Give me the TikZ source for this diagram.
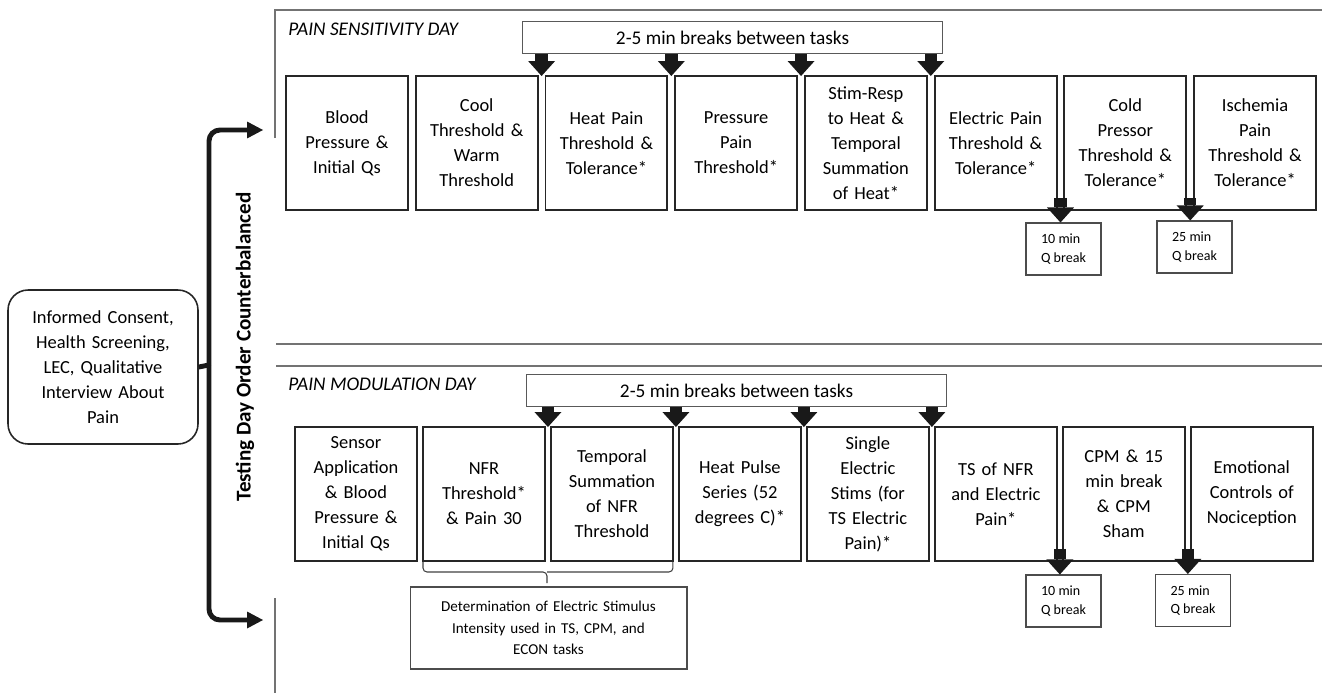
\documentclass[tikz,border=0pt]{standalone}
\usepackage{fontspec}
\setmainfont{Carlito}
\usetikzlibrary{positioning,calc,arrows.meta}
\tikzset{
  taskbox/.style = {draw=black!85, line width=1.1pt, minimum width=2.44cm, minimum height=2.68cm, text width=2.34cm, align=center, inner sep=0pt, outer sep=0pt, font=\fontsize{10.5}{14.2}\selectfont},
  breakbox/.style = {draw=black!65, line width=0.6pt, minimum width=8.42cm, minimum height=0.64cm, inner sep=0pt, font=\fontsize{11}{12}\selectfont},
  qbox/.style = {draw=black!70, line width=0.6pt, minimum width=1.5cm, minimum height=1.04cm, align=left, inner sep=0pt, font=\fontsize{8}{10.4}\selectfont},
  blockarrow/.style = {draw=black!90, line width=0.25cm, -{Triangle[width=0.54cm,length=0.3cm,line width=0pt]}},
  forkline/.style = {draw=black!90, line width=2.8pt},
  forkarrow/.style = {forkline, rounded corners=0.22cm, -{Triangle[width=0.34cm,length=0.32cm,line width=0pt]}},
  panelline/.style = {draw=black!55, line width=0.7pt},
  bracestyle/.style = {draw=black!75, line width=0.6pt, rounded corners=0.08cm},
  daytitle/.style = {anchor=west, inner sep=0pt, font=\itshape\fontsize{11}{12}\selectfont}
}
\begin{document}
\begin{tikzpicture}[x=0.02cm, y=-0.02cm]
\useasboundingbox (0,0) rectangle (1322,693);

% panel frames
\draw[panelline] (275,138) -- (275,10) -- (1322,10);
\draw[panelline] (276,344) -- (1322,344);
\draw[panelline] (276,366) -- (1322,366);
\draw[panelline] (275,598) -- (275,693);

% start and counterbalancing
\node (consent) [draw=black!85, line width=0.9pt, rounded corners=0.4cm, minimum width=3.8cm, minimum height=3.08cm, text width=3.6cm, align=center, inner sep=0pt, font=\fontsize{10.5}{14.2}\selectfont] at (103,367) {Informed Consent,\\Health Screening,\\LEC, Qualitative\\Interview About\\Pain};
\node (order) [rotate=90, inner sep=0pt, font=\bfseries\fontsize{12}{13}\selectfont] at (245,347) {Testing Day Order Counterbalanced};
\coordinate (fork) at (209,365);
\coordinate (sensin) at (263,130);
\coordinate (modin) at (263,620);
\draw[forkline] (consent.east) -- (fork);
\draw[forkarrow] (fork) |- (sensin);
\draw[forkarrow] (fork) |- (modin);

% pain sensitivity day
\node (senstitle) [daytitle] at (288,29) {PAIN SENSITIVITY DAY};
\node (sbreak) [breakbox] at (732.5,37.5) {2-5 min breaks between tasks};
\node (s1) [taskbox] at (347,143) {Blood\\Pressure \&\\Initial Qs};
\node (s2) [taskbox, right=0.155cm of s1] {Cool\\Threshold \&\\Warm\\Threshold};
\node (s3) [taskbox, right=0.155cm of s2] {Heat Pain\\Threshold \&\\Tolerance*};
\node (s4) [taskbox, right=0.155cm of s3] {Pressure\\Pain\\Threshold*};
\node (s5) [taskbox, right=0.155cm of s4] {Stim-Resp\\to Heat \&\\Temporal\\Summation\\of Heat*};
\node (s6) [taskbox, right=0.155cm of s5] {Electric Pain\\Threshold \&\\Tolerance*};
\node (s7) [taskbox, right=0.155cm of s6] {Cold\\Pressor\\Threshold \&\\Tolerance*};
\node (s8) [taskbox, right=0.155cm of s7] {Ischemia\\Pain\\Threshold \&\\Tolerance*};
\node (sq1) [qbox] at (1063.5,249) {10 min\\Q break};
\node (sq2) [qbox] at (1194.5,247) {25 min\\Q break};

\coordinate (s23) at ($(s2.north east)!.5!(s3.north west)$);
\coordinate (s34) at ($(s3.north east)!.5!(s4.north west)$);
\coordinate (s45) at ($(s4.north east)!.5!(s5.north west)$);
\coordinate (s56) at ($(s5.north east)!.5!(s6.north west)$);
\coordinate (s67) at ($(s6.south east)!.5!(s7.south west)$);
\coordinate (s78) at ($(s7.south east)!.5!(s8.south west)$);
\draw[blockarrow] (s23 |- sbreak.south) -- (s23);
\draw[blockarrow] (s34 |- sbreak.south) -- (s34);
\draw[blockarrow] (s45 |- sbreak.south) -- (s45);
\draw[blockarrow] (s56 |- sbreak.south) -- (s56);
\draw[blockarrow] ([yshift=0.24cm]s67) -- (s67 |- sq1.north);
\draw[blockarrow] ([yshift=0.24cm]s78) -- (s78 |- sq2.north);

% pain modulation day
\node (modtitle) [daytitle] at (288,384) {PAIN MODULATION DAY};
\node (mbreak) [breakbox] at (736.5,390.5) {2-5 min breaks between tasks};
\node (m1) [taskbox] at (356,494) {Sensor\\Application\\\& Blood\\Pressure \&\\Initial Qs};
\node (m2) [taskbox, right=0.12cm of m1] {NFR\\Threshold*\\\& Pain 30};
\node (m3) [taskbox, right=0.12cm of m2] {Temporal\\Summation\\of NFR\\Threshold};
\node (m4) [taskbox, right=0.12cm of m3] {Heat Pulse\\Series (52\\degrees C)*};
\node (m5) [taskbox, right=0.12cm of m4] {Single\\Electric\\Stims (for\\TS Electric\\Pain)*};
\node (m6) [taskbox, right=0.12cm of m5] {TS of NFR\\and Electric\\Pain*};
\node (m7) [taskbox, right=0.12cm of m6] {CPM \& 15\\min break\\\& CPM\\Sham};
\node (m8) [taskbox, right=0.12cm of m7] {Emotional\\Controls of\\Nociception};
\node (mq1) [qbox] at (1063.5,601) {10 min\\Q break};
\node (mq2) [qbox] at (1193,600.5) {25 min\\Q break};
\node (det) [draw=black!70, line width=0.6pt, minimum width=5.54cm, minimum height=1.64cm, text width=5.3cm, align=center, inner sep=0pt, font=\fontsize{8.6}{12.3}\selectfont] at (548.5,628) {Determination of Electric Stimulus\\Intensity used in TS, CPM, and\\ECON tasks};

\coordinate (m23) at ($(m2.north east)!.5!(m3.north west)$);
\coordinate (m34) at ($(m3.north east)!.5!(m4.north west)$);
\coordinate (m45) at ($(m4.north east)!.5!(m5.north west)$);
\coordinate (m56) at ($(m5.north east)!.5!(m6.north west)$);
\coordinate (m67) at ($(m6.south east)!.5!(m7.south west)$);
\coordinate (m78) at ($(m7.south east)!.5!(m8.south west)$);
\draw[blockarrow] (m23 |- mbreak.south) -- (m23);
\draw[blockarrow] (m34 |- mbreak.south) -- (m34);
\draw[blockarrow] (m45 |- mbreak.south) -- (m45);
\draw[blockarrow] (m56 |- mbreak.south) -- (m56);
\draw[blockarrow] ([yshift=0.24cm]m67) -- (m67 |- mq1.north);
\draw[blockarrow] ([yshift=0.24cm]m78) -- (m78 |- mq2.north);

% brace under the NFR tasks
\draw[bracestyle] ([yshift=-0.02cm]m2.south west) |- (547,572) -- (547,583);
\draw[bracestyle] ([yshift=-0.02cm]m3.south east) |- (547,572);
\end{tikzpicture}
\end{document}
